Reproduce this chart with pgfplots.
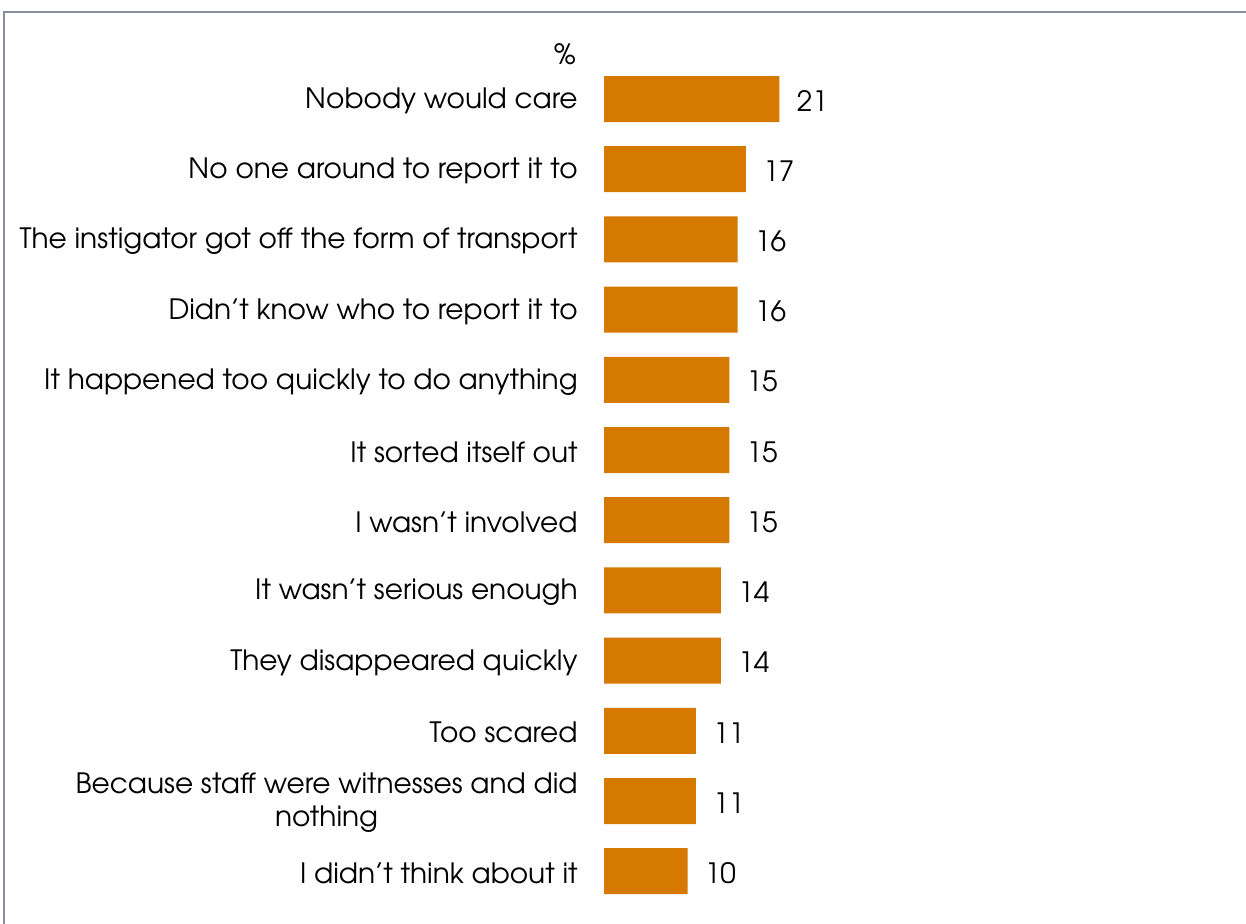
\documentclass[border=0pt]{standalone}
\usepackage{pgfplots}
\pgfplotsset{compat=1.18}
\usepackage{fontspec}
\setmainfont{TeX Gyre Adventor}
\definecolor{barc}{RGB}{214,121,0}
\definecolor{framec}{RGB}{140,140,160}
\begin{document}
\begin{tikzpicture}
\useasboundingbox (0,0) rectangle (623pt,461.5pt);
\fill[white] (0,0) rectangle (623pt,461.5pt);
\draw[framec, line width=1pt] (2pt,-2pt) -- (2pt,455.5pt) -- (625pt,455.5pt);
\begin{axis}[
  at={(302pt,8.35pt)}, anchor=south west,
  scale only axis, width=125.25pt, height=421.2pt,
  xbar, bar width=23pt,
  xmin=0, xmax=30, ymin=-0.5, ymax=11.5,
  y dir=reverse,
  axis line style={draw=none},
  tick style={draw=none}, major tick length=0pt,
  xtick=\empty,
  ytick={0,...,11},
  yticklabels={Nobody would care, No one around to report it to, The instigator got off the form of transport, Didn’t know who to report it to, It happened too quickly to do anything, It sorted itself out, I wasn’t involved, It wasn’t serious enough, They disappeared quickly, Too scared, {Because staff were witnesses and did\\nothing}, I didn’t think about it},
  yticklabel style={font=\fontsize{14}{16.5}\selectfont, align=center, anchor=east, inner sep=0pt, xshift=-13pt, yshift=-1pt},
  nodes near coords,
  every node near coord/.append style={font=\fontsize{14}{16.5}\selectfont, anchor=west, inner sep=0pt, xshift=8.5pt, yshift=-1pt, /pgf/number format/assume math mode=true},
  clip=false,
]
\addplot[fill=barc, draw=none] coordinates {(21,0) (17,1) (16,2) (16,3) (15,4) (15,5) (15,6) (14,7) (14,8) (11,9) (11,10) (10,11)};
\node[font=\fontsize{14}{16.5}\selectfont, inner sep=0pt, anchor=base] at (axis description cs:0,0) [xshift=-19.5pt, yshift=421pt] {\%};
\end{axis}
\end{tikzpicture}
\end{document}
